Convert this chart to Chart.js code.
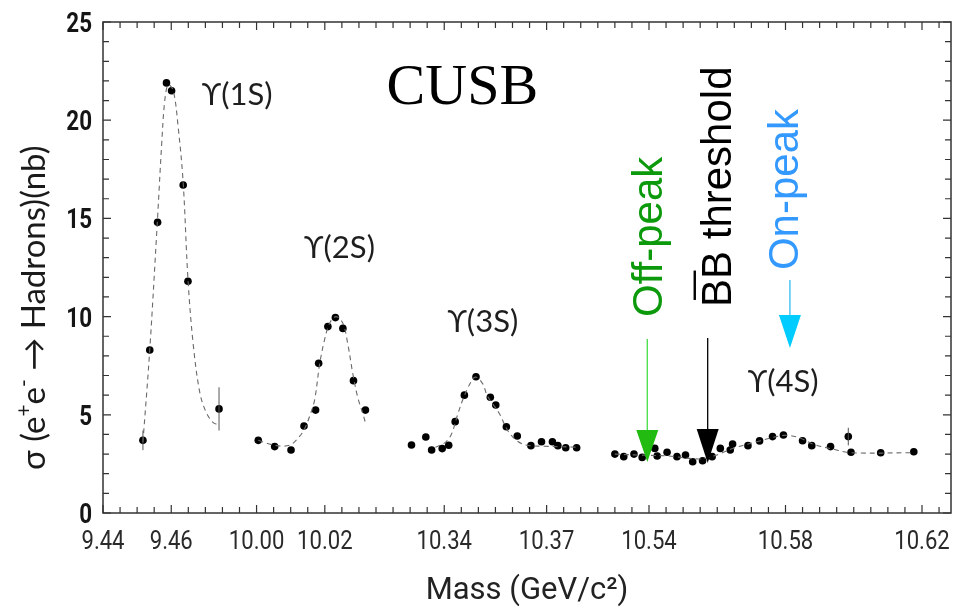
<!DOCTYPE html>
<html><head><meta charset="utf-8">
<script src="https://cdn.jsdelivr.net/npm/chart.js@4/dist/chart.umd.min.js"></script>
<style>html,body{margin:0;padding:0;background:#fff}#wrap{width:955px;height:610px}</style>
</head><body><div id="wrap"><canvas id="c" width="955" height="610"></canvas></div>
<script>
// ---- x-axis tick labels (mass, GeV/c^2) of the broken axis ----
const tickLabels = ['9.44','9.46','10.00','10.02','10.34','10.37','10.54','10.58','10.62'];
const tickMasses = [9.44, 9.46, 10.00, 10.02, 10.34, 10.37, 10.54, 10.58, 10.62];
// ---- axis breaks: first mass of each segment and where it starts on the axis ----
const segStart  = [9.44, 10.00, 10.34, 10.54];
const segOffset = [0, 0.045, 0.100, 0.160];
const segLow    = [9.0, 9.9, 10.2, 10.45];
const yTicks = [0, 5, 10, 15, 20, 25];

// ---- measured cross sections (nb) ----
const mass1S  = [9.4517, 9.4537, 9.4560, 9.4586, 9.4601, 9.4635, 9.4649, 9.4740];
const sigma1S = [3.7, 8.3, 14.8, 21.9, 21.5, 16.7, 11.8, 5.3];
const err1S   = [0.5, 0, 0, 0, 0, 0, 0, 1.1];

const mass2S  = [10.0005, 10.0053, 10.0101, 10.0139, 10.0173, 10.0182, 10.0209, 10.0231, 10.0253, 10.0284, 10.0319];
const sigma2S = [3.7, 3.38, 3.21, 4.43, 5.24, 7.62, 9.49, 9.95, 9.4, 6.74, 5.24];

const mass3S  = [10.3304, 10.3346, 10.3363, 10.3394, 10.3413, 10.3432, 10.3459, 10.3493, 10.3535, 10.3551, 10.3582, 10.3614, 10.3654, 10.3685, 10.3717, 10.3733, 10.3756, 10.3788];
const sigma3S = [3.46, 3.87, 3.21, 3.28, 3.45, 4.65, 6.0, 6.94, 5.89, 5.5, 4.39, 3.92, 3.43, 3.63, 3.63, 3.43, 3.32, 3.32];

const mass4S  = [10.5300, 10.5326, 10.5356, 10.5380, 10.5417, 10.5424, 10.5453, 10.5482, 10.5507, 10.5528, 10.5557, 10.5585, 10.5609, 10.5638, 10.5645, 10.5690, 10.5724, 10.5762, 10.5794, 10.5850, 10.5877, 10.5932, 10.5984, 10.5992, 10.6079, 10.6176];
const sigma4S = [3.0, 2.87, 3.0, 2.83, 3.29, 2.9, 3.09, 2.87, 2.95, 2.61, 2.66, 2.87, 3.29, 3.21, 3.51, 3.43, 3.67, 3.89, 3.97, 3.68, 3.43, 3.38, 3.89, 3.09, 3.07, 3.12];
const err4S   = [0,0,0,0,0,0,0,0,0,0,0,0,0,0,0,0,0,0,0,0,0,0,0.45,0,0,0];

// ---- fitted curves (dashed) ----
const fitMass1S  = [9.4517, 9.4537, 9.4559, 9.4572, 9.4581, 9.4591, 9.4606, 9.4620, 9.4635, 9.4649, 9.4664, 9.4684, 9.4703, 9.4723, 9.4736];
const fitSigma1S = [3.6, 8.3, 14.75, 18.8, 21.0, 21.8, 21.5, 19.7, 16.8, 11.9, 8.65, 6.1, 5.1, 4.6, 4.5];
const fitMass2S  = [10.0005, 10.0053, 10.0097, 10.0126, 10.0141, 10.0155, 10.0170, 10.0185, 10.0199, 10.0214, 10.0233, 10.0253, 10.0267, 10.0282, 10.0296, 10.0311, 10.0319];
const fitSigma2S = [3.7, 3.45, 3.45, 3.9, 4.3, 4.9, 5.75, 7.6, 8.8, 9.66, 10.0, 9.66, 8.64, 7.1, 5.92, 5.08, 4.6];
const fitMass3S  = [10.3374, 10.3400, 10.3420, 10.3439, 10.3454, 10.3473, 10.3491, 10.3512, 10.3527, 10.3561, 10.3585, 10.3610, 10.3639, 10.3692, 10.3789];
const fitSigma3S = [3.35, 3.56, 3.97, 5.0, 5.75, 6.5, 6.92, 6.6, 5.94, 5.08, 4.23, 3.72, 3.46, 3.4, 3.35];
const fitMass4S  = [10.5300, 10.5370, 10.5458, 10.5546, 10.5589, 10.5648, 10.5721, 10.5794, 10.5838, 10.5882, 10.5940, 10.5990, 10.6177];
const fitSigma4S = [3.0, 2.95, 2.9, 2.75, 2.9, 3.3, 3.65, 3.95, 3.85, 3.5, 3.25, 3.07, 3.07];

// ---- annotation texts ----
const peakNames = ['\u03D2(1S)', '\u03D2(2S)', '\u03D2(3S)', '\u03D2(4S)'];
const markerNames = ['Off-peak', 'BB threshold', 'On-peak'];
const markerMass = [10.5395, 10.5572, 10.5813];

function disp(m) {
  let i = segLow.length - 1;
  while (i > 0 && m < segLow[i]) i--;
  return m - segStart[i] + segOffset[i];
}
const pts = (ms, ss) => ms.map((m, i) => ({ x: disp(m), y: ss[i] }));

const SANS = "Roboto, 'Liberation Sans', sans-serif";

const fitStyle = { showLine: true, pointRadius: 0, borderColor: '#6a6a6a', borderWidth: 1.1, borderDash: [5, 4], tension: 0.35, fill: false };
const dotStyle = { showLine: false, pointRadius: 3.8, pointBackgroundColor: '#000', pointBorderColor: '#000', pointBorderWidth: 0 };

const datasets = [
  Object.assign({ data: pts(fitMass1S, fitSigma1S) }, fitStyle),
  Object.assign({ data: pts(fitMass2S, fitSigma2S) }, fitStyle),
  Object.assign({ data: pts(fitMass3S, fitSigma3S) }, fitStyle),
  Object.assign({ data: pts(fitMass4S, fitSigma4S) }, fitStyle),
  Object.assign({ data: pts(mass1S, sigma1S), errors: err1S }, dotStyle),
  Object.assign({ data: pts(mass2S, sigma2S) }, dotStyle),
  Object.assign({ data: pts(mass3S, sigma3S) }, dotStyle),
  Object.assign({ data: pts(mass4S, sigma4S), errors: err4S }, dotStyle)
];

// annotation layout (data coordinates)
const peakPos = [[9.4793, 21.28], [10.0243, 13.5], [10.3513, 9.72], [10.5793, 6.67]];
const cusbPos = [10.3453, 21.6];
const markerStyle = [
  { text: '#0c9a0c', line: '#44dd44', head: '#22bb11', textMass: 10.5437, textY: 9.98, top: 8.86, headTop: 4.23, tip: 2.6 },
  { text: '#000000', line: '#000000', head: '#000000', textMass: 10.5639, textY: 10.49, top: 8.91, headTop: 4.28, tip: 2.55 },
  { text: '#3399ff', line: '#33bbee', head: '#00ccff', textMass: 10.5838, textY: 12.37, top: 11.86, headTop: 10.08, tip: 8.4 }
];

// draws text horizontally condensed by factor sx
function squeezed(ctx, txt, x, y, sx, align) {
  ctx.save();
  ctx.translate(x, y); ctx.scale(sx, 1);
  ctx.textAlign = align; ctx.textBaseline = 'alphabetic';
  ctx.fillText(txt, 0, 0);
  ctx.restore();
}

const framePlugin = {
  id: 'frame',
  afterDatasetsDraw(chart) {
    const { ctx, chartArea: a, scales: { x, y } } = chart;
    ctx.save();
    // error bars
    chart.data.datasets.forEach(ds => {
      if (!ds.errors) return;
      ds.data.forEach((p, i) => {
        const e = ds.errors[i];
        if (!e) return;
        const px = x.getPixelForValue(p.x);
        ctx.strokeStyle = '#555'; ctx.lineWidth = 1;
        ctx.beginPath();
        ctx.moveTo(px, y.getPixelForValue(p.y - e));
        ctx.lineTo(px, y.getPixelForValue(p.y + e));
        ctx.stroke();
      });
    });
    // frame
    ctx.strokeStyle = '#333'; ctx.lineWidth = 1.5;
    ctx.strokeRect(a.left, a.top, a.right - a.left, a.bottom - a.top);
    ctx.lineWidth = 1.2;
    ctx.beginPath();
    for (let v = 0; v <= 25; v++) {
      const py = y.getPixelForValue(v);
      const len = v % 5 === 0 ? 8 : 6;
      ctx.moveTo(a.left, py); ctx.lineTo(a.left + len, py);
      ctx.moveTo(a.right, py); ctx.lineTo(a.right - len, py);
    }
    const majors = tickMasses.map(disp);
    for (let k = 0; k <= 49; k++) {
      const d = k * 0.005;
      const px = x.getPixelForValue(d);
      const len = majors.some(m => Math.abs(m - d) < 1e-6) ? 8 : 6;
      ctx.moveTo(px, a.bottom); ctx.lineTo(px, a.bottom - len);
      ctx.moveTo(px, a.top); ctx.lineTo(px, a.top + len);
    }
    ctx.stroke();

    // tick labels from the library's tick lists
    ctx.fillStyle = '#2a2a2a';
    ctx.font = '26px ' + SANS;
    x.ticks.forEach((t, i) => squeezed(ctx, tickLabels[i], x.getPixelForValue(t.value), a.bottom + 35.5, 0.85, 'center'));
    ctx.fillStyle = '#151515';
    ctx.font = 'bold 28px ' + SANS;
    y.ticks.forEach(t => squeezed(ctx, String(t.value), a.left - 11, y.getPixelForValue(t.value) + 10, 0.8, 'right'));

    // CUSB
    ctx.fillStyle = '#000';
    ctx.font = "58px 'Liberation Serif', serif";
    ctx.textAlign = 'center'; ctx.textBaseline = 'middle';
    ctx.fillText('CUSB', x.getPixelForValue(disp(cusbPos[0])), y.getPixelForValue(cusbPos[1]));

    // Upsilon labels
    ctx.fillStyle = '#1e1e1e';
    ctx.font = "31px Lato, 'DejaVu Sans', sans-serif";
    peakNames.forEach((t, i) => {
      ctx.fillText(t, x.getPixelForValue(disp(peakPos[i][0])), y.getPixelForValue(peakPos[i][1]));
    });

    // arrows and vertical labels
    markerNames.forEach((t, i) => {
      const s = markerStyle[i];
      const ax = x.getPixelForValue(disp(markerMass[i]));
      const yTop = y.getPixelForValue(s.top), yHead = y.getPixelForValue(s.headTop), yTip = y.getPixelForValue(s.tip);
      ctx.strokeStyle = s.line; ctx.lineWidth = 1.3;
      ctx.beginPath(); ctx.moveTo(ax, yTop); ctx.lineTo(ax, yHead + 1); ctx.stroke();
      ctx.fillStyle = s.head;
      ctx.beginPath(); ctx.moveTo(ax - 11, yHead); ctx.lineTo(ax + 11, yHead); ctx.lineTo(ax, yTip); ctx.closePath(); ctx.fill();

      const tx = x.getPixelForValue(disp(s.textMass)), ty = y.getPixelForValue(s.textY);
      ctx.save();
      ctx.translate(tx, ty); ctx.rotate(-Math.PI / 2);
      ctx.font = "42px 'Liberation Sans', Arial, sans-serif";
      ctx.fillStyle = s.text; ctx.textAlign = 'left'; ctx.textBaseline = 'alphabetic';
      ctx.fillText(t, 0, 0);
      if (i === 1) {
        const wB = ctx.measureText('B').width;
        ctx.fillRect(wB * 0.25, -37, wB * 1.05, 2.4);
      }
      ctx.restore();
    });

    // y-axis title
    ctx.save();
    ctx.translate(45, 470); ctx.rotate(-Math.PI / 2);
    ctx.fillStyle = '#1a1a1a'; ctx.textAlign = 'left'; ctx.textBaseline = 'alphabetic';
    const big = "33px Lato, 'Liberation Sans', sans-serif", small = "21px Lato, 'Liberation Sans', sans-serif";
    const parts = [['\u03C3 (e', big, 0], ['+', small, -14], ['e', big, 0], ['-', small, -14], [' \u2192 Hadrons)(nb)', big, 0]];
    let cx = 0;
    parts.forEach(([txt, f, dy]) => { ctx.font = f; ctx.fillText(txt, cx, dy); cx += ctx.measureText(txt).width; });
    ctx.restore();
    ctx.restore();
  }
};

new Chart(document.getElementById('c'), {
  type: 'scatter',
  data: { datasets },
  options: {
    responsive: false, animation: false, devicePixelRatio: 1,
    layout: { padding: { top: 22, right: 2, left: 0, bottom: 0 } },
    plugins: { legend: { display: false }, tooltip: { enabled: false } },
    scales: {
      x: {
        type: 'linear', min: 0, max: 0.2485,
        grid: { display: false, drawTicks: false }, border: { display: false },
        afterBuildTicks: s => { s.ticks = tickMasses.map(m => ({ value: disp(m) })); },
        ticks: { display: false, autoSkip: false, callback: (v, i) => tickLabels[i] },
        title: { display: true, text: 'Mass (GeV/c\u00B2)', color: '#222', font: { family: SANS, size: 31 }, padding: { top: 0, bottom: 0 } },
        afterFit: s => { s.height = 97; }
      },
      y: {
        min: 0, max: 25,
        afterBuildTicks: s => { s.ticks = yTicks.map(v => ({ value: v })); },
        grid: { display: false, drawTicks: false }, border: { display: false },
        ticks: { display: false },
        afterFit: s => { s.width = 103; }
      }
    }
  },
  plugins: [framePlugin]
});
</script></body></html>
